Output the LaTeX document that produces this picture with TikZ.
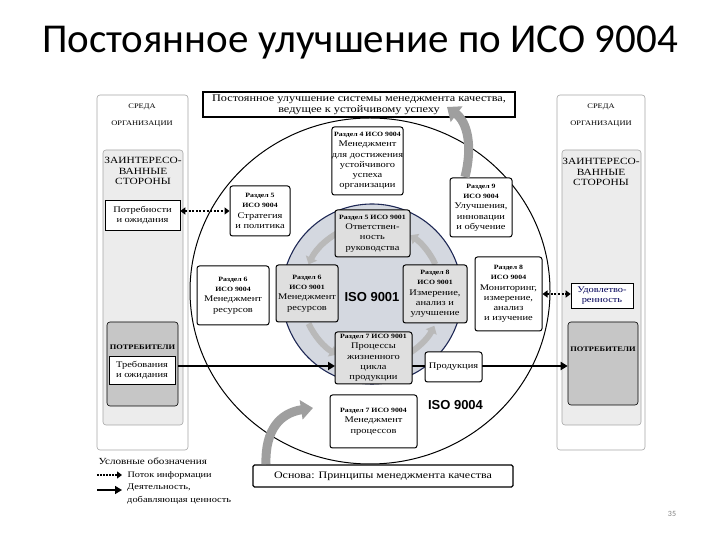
\documentclass[tikz,border=0pt]{standalone}
\usepackage{fontspec}
\setmainfont{Liberation Serif}[FakeStretch=1.2]
\newfontfamily\titlefont{Carlito}
\newfontfamily\isofont{Liberation Sans}
\usetikzlibrary{arrows.meta}

\definecolor{isofill}{RGB}{212,216,224}
\definecolor{isoline}{RGB}{30,40,85}
\newcommand{\razd}[1]{{\bfseries\fontsize{6.5}{8}\selectfont #1}}

\tikzset{
  sec/.style={draw, line width=1pt, rounded corners=2.5pt, fill=white, align=center,
    inner sep=0pt, font=\fontsize{8.7}{10.3}\selectfont},
  secin/.style={sec, fill=gray!25},
  colbox/.style={draw=gray!70, line width=0.6pt, rounded corners=3pt},
  caps/.style={font=\fontsize{7}{8}\selectfont},
  stake/.style={align=center, font=\fontsize{9.5}{10.5}\selectfont},
  info/.style={line width=2pt, dash pattern=on 2pt off 1.6pt,
    {Triangle[width=7pt,length=5pt]}-{Triangle[width=7pt,length=5pt]}},
  act/.style={line width=2.2pt, -{Triangle[width=8pt,length=7pt]}},
  inarr/.style={line width=6pt, color=gray!55, -{Triangle[width=12pt,length=7pt]}},
  bigarr/.style={line width=9pt, color=gray!75, -{Triangle[width=19pt,length=12pt]}}
}

\begin{document}
\begin{tikzpicture}[x=1pt,y=1pt]
\useasboundingbox (0,0) rectangle (720,540);

\coordinate (cbig) at (370,249);
\coordinate (cin) at (372,246);
\coordinate (flow) at (0,174);

\node[font=\titlefont\fontsize{41}{44}\selectfont] (title) at (360,497) {Постоянное улучшение по ИСО 9004};
\node[font=\titlefont\fontsize{8}{9}\selectfont, text=gray] (pg) at (672,26) {35};

\draw[colbox, fill=white] (97,90) rectangle (188,445);
\draw[colbox, fill=gray!15] (103,115) rectangle (183,390);
\draw[colbox, fill=white] (557,90) rectangle (645,445);
\draw[colbox, fill=gray!15] (562,115) rectangle (641,390);

\node[caps] (envL1) at (142,433) {СРЕДА};
\node[caps] (envL2) at (142,416) {ОРГАНИЗАЦИИ};
\node[stake] (stkL) at (143,369) {ЗАИНТЕРЕСО-\\ВАННЫЕ\\СТОРОНЫ};
\node[caps] (envR1) at (601,433) {СРЕДА};
\node[caps] (envR2) at (601,416) {ОРГАНИЗАЦИИ};
\node[stake] (stkR) at (601,368) {ЗАИНТЕРЕСО-\\ВАННЫЕ\\СТОРОНЫ};

\node[sec, line width=0.6pt, rounded corners=0pt, minimum width=75, minimum height=30] (needL) at (142.5,325) {Потребности\\и ожидания};
\node[sec, line width=0.6pt, rounded corners=3pt, fill=gray!45, minimum width=71, minimum height=84] (custL) at (142.5,176) {};
\node[font=\bfseries\fontsize{7}{8}\selectfont] (custLt) at (142.5,193) {ПОТРЕБИТЕЛИ};
\node[sec, line width=0.6pt, rounded corners=0pt, minimum width=66, minimum height=28] (reqL) at (142,170) {Требования\\и ожидания};

\node[sec, line width=0.6pt, rounded corners=0pt, minimum width=62, minimum height=25, text=blue!35!black] (satR) at (602,244.5) {Удовлетво-\\ренность};
\node[sec, line width=0.6pt, rounded corners=3pt, fill=gray!45, minimum width=70, minimum height=83] (custR) at (603,176.5) {};
\node[font=\bfseries\fontsize{7}{8}\selectfont] (custRt) at (603,191) {ПОТРЕБИТЕЛИ};

\draw[line width=1pt] (cbig) ellipse [x radius=180, y radius=173];
\draw[line width=1.1pt, draw=isoline, fill=isofill] (cin) circle [radius=90];

\draw[act] (custL.east |- flow) -- (335,174);
\draw[line width=2.2pt] (335,174) -- (425,174);
\draw[act] (482,174) -- (custR.west |- flow);

\draw[inarr] ([shift={(112:70)}]cin) arc[start angle=112, end angle=155, radius=70];
\draw[inarr] ([shift={(205:70)}]cin) arc[start angle=205, end angle=240, radius=70];
\draw[inarr] ([shift={(298:70)}]cin) arc[start angle=298, end angle=333, radius=70];
\draw[inarr] ([shift={(25:70)}]cin) arc[start angle=25, end angle=57, radius=70];

\node[font=\isofont\bfseries\fontsize{13}{14}\selectfont] (iso1) at (372,243) {ISO 9001};
\node[font=\isofont\bfseries\fontsize{13}{14}\selectfont] (iso4) at (455.5,135) {ISO 9004};

\node[secin, minimum width=75, minimum height=47] (q5) at (372.5,306.5) {\razd{Раздел 5 ИСО 9001}\\Ответствен-\\ность\\руководства};
\node[secin, minimum width=62, minimum height=57] (q6) at (307,246.5) {\razd{Раздел 6}\\\razd{ИСО 9001}\\Менеджмент\\ресурсов};
\node[secin, minimum width=64, minimum height=58] (q8) at (435,246) {\razd{Раздел 8}\\\razd{ИСО 9001}\\Измерение,\\анализ и\\улучшение};
\node[secin, minimum width=77, minimum height=52] (q7) at (373.5,182) {\razd{Раздел 7 ИСО 9001}\\Процессы\\жизненного\\цикла\\продукции};

\node[sec, minimum width=71, minimum height=68] (s4) at (367.5,379) {\razd{Раздел 4 ИСО 9004}\\Менеджмент\\для достижения\\устойчивого\\успеха\\организации};
\node[sec, minimum width=60, minimum height=50] (s5) at (260,329) {\razd{Раздел 5}\\\razd{ИСО 9004}\\Стратегия\\и политика};
\node[sec, minimum width=62, minimum height=59] (s9) at (481,332.5) {\razd{Раздел 9}\\\razd{ИСО 9004}\\Улучшения,\\инновации\\и обучение};
\node[sec, minimum width=72, minimum height=59] (s6) at (233,244.5) {\razd{Раздел 6}\\\razd{ИСО 9004}\\Менеджмент\\ресурсов};
\node[sec, minimum width=67, minimum height=74] (s8) at (508.5,246) {\razd{Раздел 8}\\\razd{ИСО 9004}\\Мониторинг,\\измерение,\\анализ\\и изучение};
\node[sec, minimum width=87, minimum height=53] (s7) at (373.5,118.5) {\razd{Раздел 7 ИСО 9004}\\Менеджмент\\процессов};
\node[sec, minimum width=57, minimum height=30] (prod) at (453.5,173) {Продукция};

\node[sec, rounded corners=0pt, line width=1.2pt, minimum width=312, minimum height=25, font=\fontsize{10.2}{11}\selectfont] (top) at (359,435.5) {Постоянное улучшение системы менеджмента качества,\\ведущее к устойчивому успеху};
\node[sec, line width=1.2pt, rounded corners=1.5pt, minimum width=260, minimum height=22, font=\fontsize{10}{11}\selectfont] (base) at (383,64) {Основа: Принципы менеджмента качества};

\draw[info] (s5.west -| needL.east) -- (s5.west);
\draw[info] (s8.east) -- (s8.east -| satR.west);

\draw[bigarr] (465,363) .. controls (473,395) and (467,418) .. (447,433);
\draw[bigarr] (266,76) .. controls (265,110) and (280,127) .. (313,132);

\node[anchor=west, font=\fontsize{9.3}{10}\selectfont] (leg) at (95,79) {Условные обозначения};
\coordinate (li1) at (97,65);
\coordinate (li2) at (122,65);
\draw[line width=2pt, dash pattern=on 1.5pt off 1.5pt, -{Triangle[width=7pt,length=5pt]}] (li1) -- (li2);
\node[anchor=west, font=\fontsize{8.5}{9}\selectfont] (leg1) at (124,65) {Поток информации};
\coordinate (la1) at (97,50);
\coordinate (la2) at (122,50);
\draw[act, line width=1.5pt] (la1) -- (la2);
\node[anchor=north west, align=left, font=\fontsize{8.7}{12.5}\selectfont, inner sep=0pt] (leg2) at (127,56) {Деятельность,\\добавляющая ценность};

\end{tikzpicture}
\end{document}
